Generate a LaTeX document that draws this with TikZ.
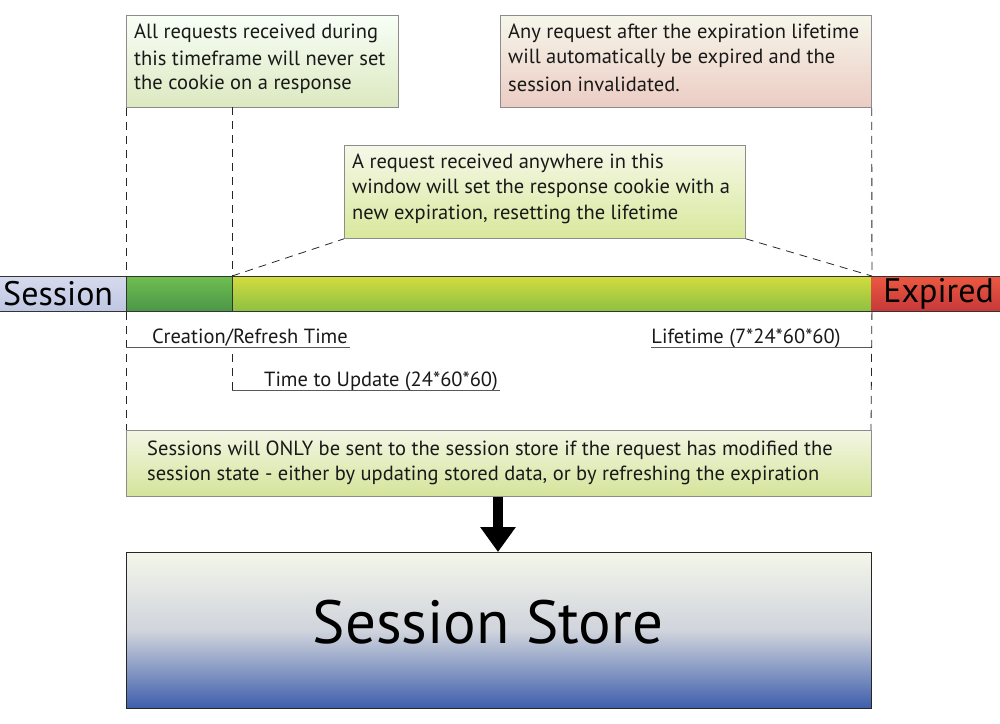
\documentclass[tikz,border=0pt]{standalone}
\usepackage{fontspec}
\setmainfont{PT Sans}
\usetikzlibrary{arrows.meta}
\begin{document}
\begin{tikzpicture}[x=1pt,y=-1pt,
  box/.style={draw=black!45, line width=0.8pt, anchor=north west, inner sep=0pt},
  txt/.style={anchor=west, inner sep=0pt, font=\fontsize{20.5}{25}\selectfont, text=black!90},
  bar/.style={draw=black!80, line width=0.9pt},
  guide/.style={draw=black!85, line width=0.8pt, dash pattern=on 8pt off 6pt},
  uline/.style={draw=black!65, line width=1pt},
  lbl/.style={inner sep=0pt, font=\fontsize{20.5}{22}\selectfont, text=black!90}]
\useasboundingbox (0,0) rectangle (1000,723);
% top boxes
\node[box, minimum width=272pt, minimum height=92pt, top color=green!3!white, bottom color={rgb,255:red,220;green,232;blue,192}] (b1) at (126,15) {};
\node[txt] (t1a) at (134,33) {All requests received during};
\node[txt] (t1b) at (134,58) {this timeframe will never set};
\node[txt] (t1c) at (134,84) {the cookie on a response};
\node[box, minimum width=371pt, minimum height=92pt, top color={rgb,255:red,246;green,246;blue,234}, bottom color={rgb,255:red,236;green,204;blue,196}] (b2) at (500,15) {};
\node[txt] (t2a) at (508,33) {Any request after the expiration lifetime};
\node[txt] (t2b) at (508,58) {will automatically be expired and the};
\node[txt] (t2c) at (508,84) {session invalidated.};
\node[box, minimum width=401pt, minimum height=93pt, top color={rgb,255:red,246;green,248;blue,232}, bottom color={rgb,255:red,216;green,232;blue,156}] (b3) at (344,145) {};
\node[txt] (t3a) at (352,163) {A request received anywhere in this};
\node[txt] (t3b) at (352,188) {window will set the response cookie with a};
\node[txt] (t3c) at (352,214) {new expiration, resetting the lifetime};
% bar
\node[bar, anchor=north west, inner sep=0pt, minimum width=126pt, minimum height=35pt, top color={rgb,255:red,214;green,218;blue,238}, bottom color={rgb,255:red,190;green,198;blue,226}, draw=none] (sess) at (0,276) {};
\node[inner sep=0pt, anchor=west, font=\fontsize{34}{34}\selectfont] (sesst) at (3,293.5) {Session};
\node[bar, anchor=north west, inner sep=0pt, minimum width=106pt, minimum height=35pt, top color={rgb,255:red,110;green,190;blue,80}, bottom color={rgb,255:red,74;green,150;blue,72}] (grn) at (126,276) {};
\node[bar, anchor=north west, inner sep=0pt, minimum width=639pt, minimum height=35pt, top color={rgb,255:red,210;green,220;blue,62}, bottom color={rgb,255:red,140;green,192;blue,66}] (yel) at (232,276) {};
\node[bar, anchor=north west, inner sep=0pt, minimum width=129pt, minimum height=35pt, top color={rgb,255:red,236;green,88;blue,64}, bottom color={rgb,255:red,198;green,56;blue,58}, draw=none] (exp) at (871,276) {};
\node[inner sep=0pt, anchor=east, font=\fontsize{34}{34}\selectfont] (expt) at (994,293.5) {Expired};
\draw[bar] (sess.north west) -- (exp.north east);
\draw[bar] (sess.south west) -- (exp.south east);
% guides
\coordinate (g1top) at (b1.south west);
\coordinate (g2top) at (232,107);
\coordinate (g3top) at (b2.south east);
\coordinate (g1bot) at (126,430);
\coordinate (g2mid) at (232,354);
\coordinate (g2bot) at (232,390);
\coordinate (g3bot) at (871,430);
\draw[guide] (g1top) -- (grn.north west);
\draw[guide] (grn.south west) -- (g1bot);
\draw[guide] (g2top) -- (yel.north west);
\draw[guide] (g2mid) -- (g2bot);
\draw[guide] (g3top) -- (yel.north east);
\draw[guide] (yel.south east) -- (g3bot);
\draw[guide] (yel.north west) -- (b3.south west);
\draw[guide] (b3.south east) -- (yel.north east);
% labels
\node[lbl] (l1) at (250,338) {Creation/Refresh Time};
\coordinate (l1e) at (350,347);
\draw[uline] (126,347) -- (l1e);
\node[lbl] (l2) at (746,338) {Lifetime (7*24*60*60)};
\coordinate (l2s) at (651,347);
\draw[uline] (l2s) -- (871,347);
\node[lbl] (l3) at (381,381) {Time to Update (24*60*60)};
\coordinate (l3e) at (500,390);
\draw[uline] (g2bot) -- (l3e);
% bottom note
\node[box, minimum width=745pt, minimum height=66pt, top color={rgb,255:red,244;green,246;blue,228}, bottom color={rgb,255:red,212;green,228;blue,154}] (b4) at (126,430) {};
\node[txt] (t4a) at (147,450) {Sessions will ONLY be sent to the session store if the request has modified the};
\node[txt] (t4b) at (147,475) {session state - either by updating stored data, or by refreshing the expiration};
% store
\node[draw=black!85, line width=1pt, anchor=north west, inner sep=0pt, minimum width=745pt, minimum height=156pt, top color={rgb,255:red,244;green,246;blue,234}, bottom color={rgb,255:red,62;green,94;blue,172}, middle color={rgb,255:red,208;green,212;blue,220}] (store) at (126,552) {};
\node[inner sep=0pt, font=\fontsize{61}{61}\selectfont] (storet) at (488,622) {Session Store};
% arrow
\draw[line width=10pt, -{Triangle[length=25pt,width=34pt]}] (b4.south -| 498,0) -- (store.north -| 498,0);
\end{tikzpicture}
\end{document}
